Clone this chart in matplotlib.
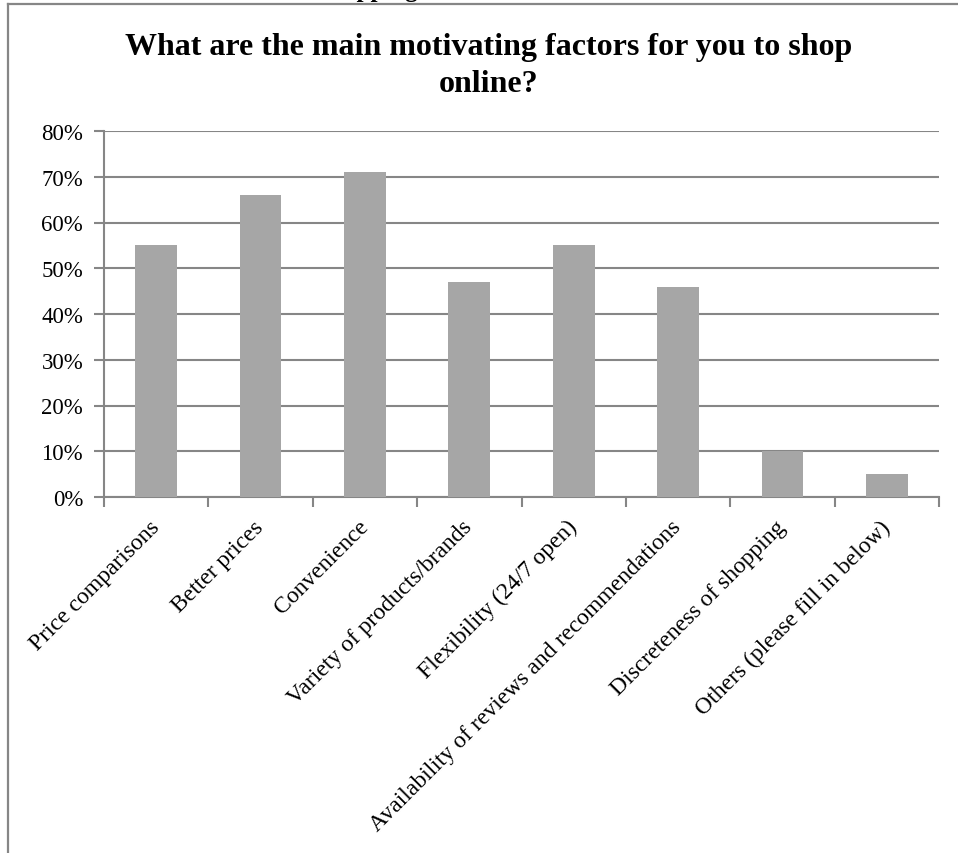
import numpy as np
import matplotlib
matplotlib.use('Agg')
import matplotlib.pyplot as plt
from matplotlib.lines import Line2D
from matplotlib.ticker import FixedLocator, PercentFormatter


factors = ['Price comparisons', 'Better prices', 'Convenience',
           'Variety of products/brands', 'Flexibility (24/7 open)',
           'Availability of reviews and recommendations',
           'Discreteness of shopping', 'Others (please fill in below)']
shares = [55, 66, 71, 47, 55, 46, 10, 5]
y_ticks = [0, 10, 20, 30, 40, 50, 60, 70, 80]

plt.rcParams['font.family'] = ['Liberation Serif', 'DejaVu Serif']

W, H = 958, 854
fig = plt.figure(figsize=(W / 100, H / 100), dpi=100)
ax = fig.add_axes([104 / W, 1 - 498 / H, (939 - 104) / W, (498 - 132) / H])

grey = '#868686'
x = np.arange(len(factors))
ax.bar(x, shares, width=0.4, color='#a6a6a6', zorder=3)

ax.set_xlim(-0.5, len(factors) - 0.5)
ax.set_ylim(0, 80)
ax.set_yticks(y_ticks)
ax.yaxis.set_major_formatter(PercentFormatter(decimals=0))
ax.grid(axis='y', color=grey, linewidth=1.5, zorder=0)

# category labels sit at bar centres, tick marks between categories
ax.set_xticks(x)
ax.set_xticklabels(factors, rotation=45, ha='right', va='center',
                   rotation_mode='anchor', fontsize=17)
ax.xaxis.set_minor_locator(FixedLocator(np.arange(len(factors) + 1) - 0.5))
ax.tick_params(axis='x', which='major', length=0, pad=19)
ax.tick_params(axis='x', which='minor', length=7, width=1.5, color=grey)
ax.tick_params(axis='y', length=7, width=1.5, color=grey, pad=8,
               labelsize=16.5)

for side in ['top', 'right']:
    ax.spines[side].set_visible(False)
for side in ['left', 'bottom']:
    ax.spines[side].set_color(grey)
    ax.spines[side].set_linewidth(1.5)

# two-line bold title
fig.text(489 / W, 1 - 55 / H, 'What are the main motivating factors for you to shop',
         ha='center', va='baseline', fontsize=23, fontweight='bold')
fig.text(489 / W, 1 - 92 / H, 'online?',
         ha='center', va='baseline', fontsize=23, fontweight='bold')

# heading line above the chart box, mostly off the page
fig.text(418 / W, 1 + 3 / H, 'Online shopping', ha='right', va='baseline',
         fontsize=18, fontweight='bold')

# outer chart box
fig.add_artist(Line2D([8 / W, 8 / W], [0, 1 - 4.5 / H], transform=fig.transFigure,
                      color=grey, linewidth=1.6))
fig.add_artist(Line2D([8 / W, 1], [1 - 4.5 / H, 1 - 4.5 / H], transform=fig.transFigure,
                      color=grey, linewidth=1.6))

fig.savefig('out.png', dpi=100)
